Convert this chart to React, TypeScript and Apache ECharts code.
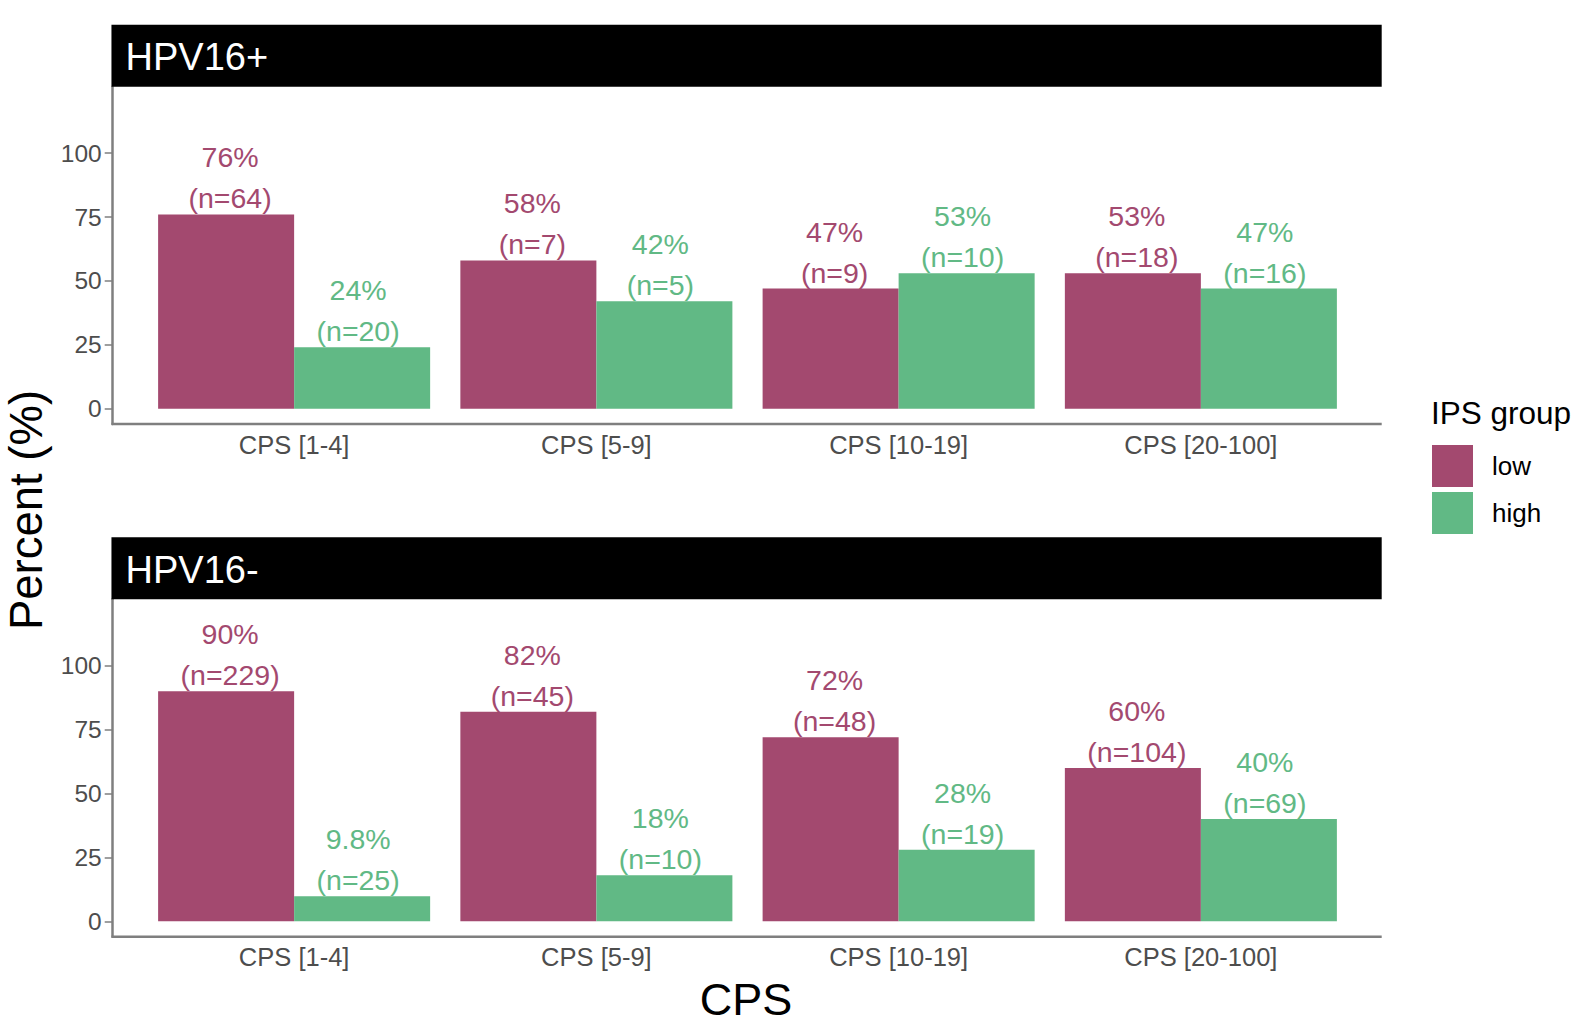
import React, { useEffect, useRef } from "react";
import * as echarts from "echarts";

const categories = ["CPS [1-4]", "CPS [5-9]", "CPS [10-19]", "CPS [20-100]"];
const panels = ["HPV16+", "HPV16-"];
const groups = ["low", "high"];
const yTicks = [0, 25, 50, 75, 100];

// HPV16+ panel
const posLowPct = [76, 58, 47, 53];
const posLowN = [64, 7, 9, 18];
const posHighPct = [24, 42, 53, 47];
const posHighN = [20, 5, 10, 16];

// HPV16- panel
const negLowPct = [90, 82, 72, 60];
const negLowN = [229, 45, 48, 104];
const negHighPct = [9.8, 18, 28, 40];
const negHighN = [25, 10, 19, 69];

const LOW_COLOR = "#A3496F";
const HIGH_COLOR = "#61B985";
const FONT = "'Liberation Sans', Arial, Helvetica, sans-serif";

const fmtPct = (v: number) => (v < 10 ? v.toFixed(1) : String(Math.round(v))) + "%";

export default function App() {
  const ref = useRef<HTMLDivElement>(null);

  useEffect(() => {
    if (!ref.current) return;
    const chart = echarts.init(ref.current, undefined, { renderer: "svg" });

    const gridLeft = 143;
    const gridRight = 1582 - 1352;
    const panelLeft = 112.7;
    const panelRight = 1381.7;
    const grids = [
      { top: 86.7, height: 337.3 },
      { top: 599.2, height: 337.5 },
    ];

    const mkSeries = (
      name: string,
      pct: number[],
      n: number[],
      color: string,
      idx: number,
      shift: number
    ) => ({
      name,
      type: "bar",
      xAxisIndex: idx,
      yAxisIndex: idx,
      barGap: "0%",
      barCategoryGap: "10%",
      itemStyle: { color },
      data: pct,
      label: {
        show: true,
        position: "top",
        distance: -1,
        offset: [shift, 0],
        formatter: (p: any) => `{a|${fmtPct(p.value)}}\n{b|(n=${n[p.dataIndex]})}`,
        rich: {
          a: { fontSize: 28.5, lineHeight: 48, color, fontFamily: FONT, align: "center" },
          b: { fontSize: 28.5, lineHeight: 34, color, fontFamily: FONT, align: "center" },
        },
      },
    });

    const axisGray = "#7F7F7F";
    const labelGray = "#4D4D4D";

    const option: any = {
      animation: false,
      backgroundColor: "#ffffff",
      textStyle: { fontFamily: FONT },
      grid: grids.map((g) => ({
        left: gridLeft,
        right: gridRight,
        top: g.top,
        height: g.height,
        containLabel: false,
      })),
      xAxis: grids.map((_, i) => ({
        type: "category",
        gridIndex: i,
        data: categories,
        axisLine: { show: false },
        axisTick: { show: false },
        axisLabel: {
          color: labelGray,
          fontSize: 25.5,
          fontFamily: FONT,
          margin: 8,
          lineHeight: 25,
        },
      })),
      yAxis: grids.map((_, i) => ({
        type: "value",
        gridIndex: i,
        min: -6,
        max: 126,
        offset: 30.3,
        splitLine: { show: false },
        axisLine: { show: true, lineStyle: { color: axisGray, width: 2.5 } },
        axisTick: {
          show: true,
          length: 8,
          lineStyle: { color: axisGray, width: 1.5 },
          customValues: yTicks,
        },
        axisLabel: {
          color: labelGray,
          fontSize: 24.5,
          fontFamily: FONT,
          margin: 11,
          customValues: yTicks,
        },
      })),
      legend: {
        orient: "vertical",
        left: 1432,
        top: 445,
        padding: 0,
        itemWidth: 41,
        itemHeight: 42,
        itemGap: 5,
        icon: "rect",
        selectedMode: false,
        data: groups,
        textStyle: {
          fontSize: 26,
          color: "#000000",
          fontFamily: FONT,
          padding: [0, 0, 0, 14],
        },
      },
      series: [
        mkSeries("low", posLowPct, posLowN, LOW_COLOR, 0, 4),
        mkSeries("high", posHighPct, posHighN, HIGH_COLOR, 0, -4),
        mkSeries("low", negLowPct, negLowN, LOW_COLOR, 1, 4),
        mkSeries("high", negHighPct, negHighN, HIGH_COLOR, 1, -4),
      ],
      graphic: [
        // strips
        ...grids.map((g) => ({
          type: "rect",
          shape: { x: panelLeft - 1.25, y: g.top - 62, width: panelRight - panelLeft + 1.25, height: 62 },
          style: { fill: "#000000" },
          z: 10,
        })),
        ...grids.map((g, i) => ({
          type: "text",
          x: 125.5,
          y: g.top - 29.5,
          style: {
            text: panels[i],
            fill: "#ffffff",
            fontSize: 38,
            fontFamily: FONT,
            verticalAlign: "middle",
            align: "left",
          },
          z: 11,
        })),
        // bottom axis lines
        ...grids.map((g) => ({
          type: "line",
          shape: { x1: panelLeft - 1.25, y1: g.top + g.height, x2: panelRight, y2: g.top + g.height },
          style: { stroke: axisGray, lineWidth: 2.5 },
          z: 10,
        })),
        // legend title
        {
          type: "text",
          x: 1431,
          y: 413,
          style: {
            text: "IPS group",
            fill: "#000000",
            fontSize: 31.5,
            fontFamily: FONT,
            verticalAlign: "middle",
            align: "left",
          },
        },
        // y axis title
        {
          type: "text",
          x: 26,
          y: 510,
          rotation: Math.PI / 2,
          style: {
            text: "Percent (%)",
            fill: "#000000",
            fontSize: 45.5,
            fontFamily: FONT,
            verticalAlign: "middle",
            align: "center",
          },
        },
        // x axis title
        {
          type: "text",
          x: 746,
          y: 999,
          style: {
            text: "CPS",
            fill: "#000000",
            fontSize: 45,
            fontFamily: FONT,
            verticalAlign: "middle",
            align: "center",
          },
        },
      ],
    };

    chart.setOption(option);
    return () => chart.dispose();
  }, []);

  return (
    <div
      ref={ref}
      style={{ position: "fixed", left: 0, top: 0, width: 1582, height: 1032, background: "#fff" }}
    />
  );
}
